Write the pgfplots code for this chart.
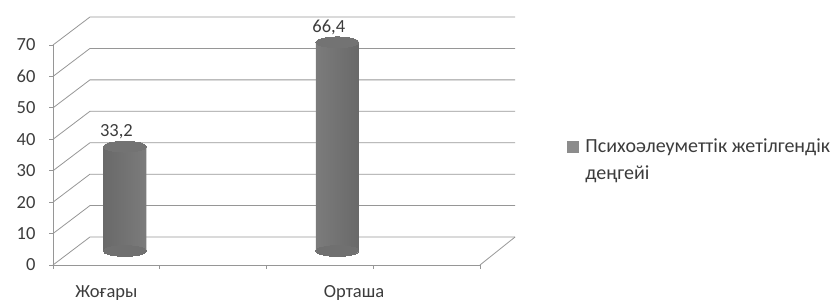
\documentclass[border=0pt]{standalone}
\usepackage{pgfplots}
\pgfplotsset{compat=1.18}
\usepackage{fontspec}
\setmainfont{Carlito}
\definecolor{gridc}{RGB}{150,150,150}
\definecolor{txt}{RGB}{60,60,60}
\definecolor{barmid}{RGB}{160,160,160}
\definecolor{baredge}{RGB}{105,105,105}
\definecolor{bartop}{RGB}{115,115,115}
\definecolor{barbot}{RGB}{112,112,112}
\definecolor{legc}{RGB}{140,140,140}
\begin{document}
\begin{tikzpicture}
\useasboundingbox (0pt,0pt) rectangle (837pt,304pt);
% front plane axis with walls
\begin{axis}[
  at={(53pt,39pt)}, anchor=south west,
  width=427pt, height=220pt, scale only axis,
  xmin=0, xmax=2, ymin=0, ymax=70,
  axis x line*=bottom, axis y line*=left,
  axis line style={gridc, line width=0.8pt},
  clip=false,
  font=\fontsize{18.5}{22}\selectfont,
  /pgf/number format/assume math mode=true,
  ytick={0,10,...,70},
  yticklabel style={text=txt, xshift=-10pt},
  xtick={0,0.5,1,1.5,2}, xticklabels={},
  tick style={gridc, line width=0.8pt},
  tick align=outside, major tick length=4pt,
  extra x ticks={0.25,1.41},
  extra x tick labels={Жоғары,Орташа},
  extra x tick style={major tick length=0pt, tick label style={text=txt, yshift=-17pt}},
]
\pgfplotsinvokeforeach{0,10,...,70}{
  \draw[gridc, line width=0.8pt] (axis cs:0,#1) -- ++(axis direction cs:0.173,8.9) -- ++(axis direction cs:1.991,0);
}
\draw[gridc, line width=0.8pt] (axis cs:2,0) -- ++(axis direction cs:0.164,8.9);
\end{axis}
% bars at mid depth
\begin{axis}[
  at={(71.5pt,53pt)}, anchor=south west,
  width=427pt, height=220pt, scale only axis,
  xmin=0, xmax=2, ymin=0, ymax=70,
  hide axis, clip=false,
  font=\fontsize{18.5}{22}\selectfont,
  /pgf/number format/.cd, fixed, precision=1, fixed zerofill, use comma, assume math mode=true,
  /pgfplots/.cd,
  legend style={draw=none, fill=none, at={(1.16,0.52)}, anchor=north west,
    inner sep=0pt, font=\fontsize{20}{27}\selectfont, text=txt,
    cells={anchor=west, align=left}},
]
\addplot[forget plot, only marks, mark=*, mark size=21.5pt,
  mark options={yscale=0.25, fill=barbot, draw=barbot, line width=0pt}]
  coordinates {(0.25,0) (1.245,0)};
\addplot[forget plot, ybar, bar width=43pt, draw=none,
  left color=baredge, right color=baredge, middle color=barmid,
  nodes near coords,
  nodes near coords style={text=txt, anchor=base, xshift=-8.5pt, yshift=10pt}]
  coordinates {(0.25,33.2) (1.245,66.4)};
\addplot[forget plot, only marks, mark=*, mark size=21.5pt,
  mark options={yscale=0.25, fill=bartop, draw=bartop, line width=0pt}]
  coordinates {(0.25,33.2) (1.245,66.4)};
\addlegendimage{legend image code/.code={\fill[legc] (0pt,8pt) rectangle (11pt,19pt); \path (16pt,8pt);}}
\addlegendentry{Психоәлеуметтік жетілгендік\\деңгейі}
\end{axis}
\end{tikzpicture}
\end{document}
